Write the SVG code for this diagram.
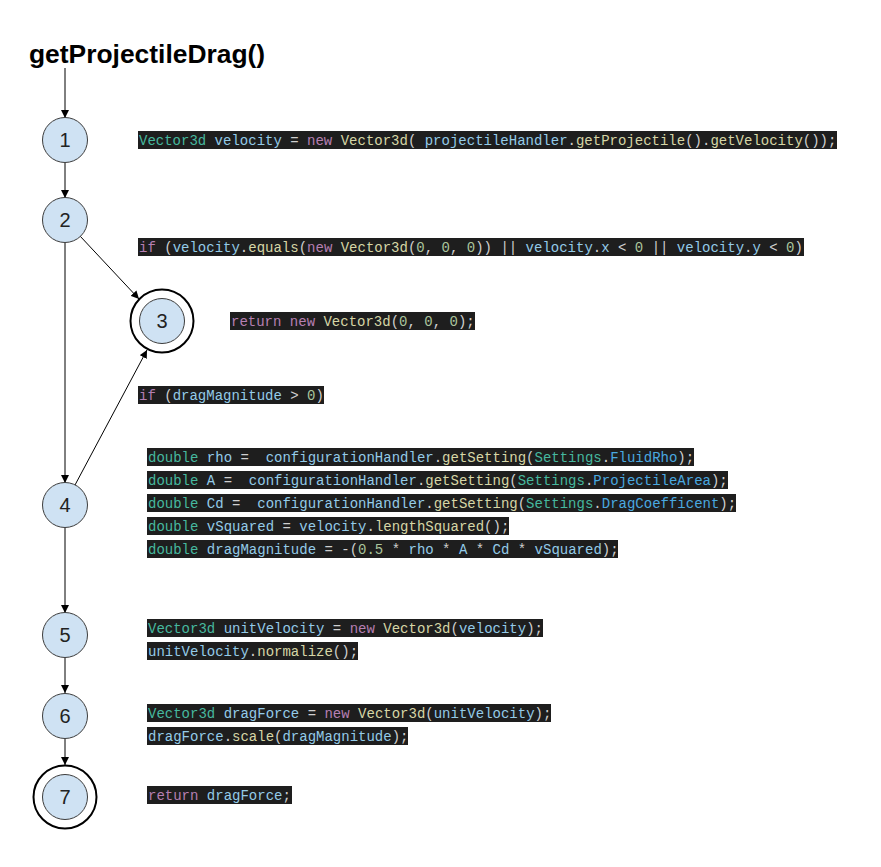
<svg xmlns="http://www.w3.org/2000/svg" width="881" height="867" viewBox="0 0 881 867">
  <style>
    .title { font-family: "Liberation Sans", Arial, sans-serif; font-weight: bold; font-size: 26.4px; fill: #000; }
    .node { fill: #cfe2f3; stroke: #3c3c3c; stroke-width: 1; }
    .ring { fill: none; stroke: #000; stroke-width: 2; }
    .lbl { font-family: "Liberation Sans", Arial, sans-serif; font-size: 20px; fill: #222; text-anchor: middle; }
    .edge { stroke: #000; stroke-width: 1; fill: none; marker-end: url(#arrow); }
    .bg { fill: #1e1e1e; }
    .code { font-family: "Liberation Mono", "Courier New", monospace; font-size: 14px; fill: #cfcfcf; white-space: pre; }
    .k { fill: #b67fb2; }
    .t { fill: #46b89e; }
    .v { fill: #94cbe8; }
    .f { fill: #d6d6a6; }
    .n { fill: #aac49c; }
    .c { fill: #4aa9e0; }
  </style>
  <defs>
    <marker id="arrow" viewBox="0 0 10 10" refX="10" refY="5" markerWidth="8" markerHeight="8" markerUnits="userSpaceOnUse" orient="auto">
      <path d="M0,0 L10,5 L0,10 z" fill="#000"/>
    </marker>
  </defs>

  <rect width="881" height="867" fill="#fff"/>

  <text class="title" x="29" y="63">getProjectileDrag()</text>

  <!-- control-flow edges -->
  <g id="connectors">
    <line class="edge" x1="65" y1="68" x2="65" y2="118"/>
    <line class="edge" x1="65" y1="163" x2="65" y2="198"/>
    <line class="edge" x1="80" y1="236" x2="139" y2="299"/>
    <line class="edge" x1="65" y1="243" x2="65" y2="483"/>
    <line class="edge" x1="75" y1="485" x2="147" y2="350"/>
    <line class="edge" x1="65" y1="528" x2="65" y2="613"/>
    <line class="edge" x1="65" y1="658" x2="65" y2="693"/>
    <line class="edge" x1="65" y1="739" x2="65" y2="765"/>
  </g>

  <!-- nodes -->
  <g id="node1">
    <circle class="node" cx="65" cy="140" r="22.5"/>
    <text class="lbl" x="65" y="147">1</text>
  </g>
  <g id="node2">
    <circle class="node" cx="65" cy="220" r="22.5"/>
    <text class="lbl" x="65" y="227">2</text>
  </g>
  <g id="node3">
    <circle class="ring" cx="162" cy="321" r="31.5"/>
    <circle class="node" cx="162" cy="321" r="22.5"/>
    <text class="lbl" x="162" y="328">3</text>
  </g>
  <g id="node4">
    <circle class="node" cx="65" cy="505" r="22.5"/>
    <text class="lbl" x="65" y="512">4</text>
  </g>
  <g id="node5">
    <circle class="node" cx="65" cy="635" r="22.5"/>
    <text class="lbl" x="65" y="642">5</text>
  </g>
  <g id="node6">
    <circle class="node" cx="65" cy="716" r="22.5"/>
    <text class="lbl" x="65" y="723">6</text>
  </g>
  <g id="node7">
    <circle class="ring" cx="65" cy="797" r="31.5"/>
    <circle class="node" cx="65" cy="797" r="22.5"/>
    <text class="lbl" x="65" y="804">7</text>
  </g>

  <!-- source snippets -->
  <g id="code1">
    <rect class="bg" x="138" y="131" width="699" height="18"/>
    <text class="code" x="139" y="144.5"><tspan class="t">Vector3d</tspan><tspan class="v"> velocity</tspan> = <tspan class="k">new</tspan><tspan class="f"> Vector3d</tspan>( <tspan class="v">projectileHandler</tspan>.<tspan class="f">getProjectile</tspan>().<tspan class="f">getVelocity</tspan>());</text>
  </g>
  <g id="code2">
    <rect class="bg" x="138" y="238" width="666" height="18"/>
    <text class="code" x="139" y="251.5"><tspan class="k">if</tspan> (<tspan class="v">velocity</tspan>.<tspan class="f">equals</tspan>(<tspan class="k">new</tspan> <tspan class="f">Vector3d</tspan>(<tspan class="n">0</tspan>, <tspan class="n">0</tspan>, <tspan class="n">0</tspan>)) || <tspan class="v">velocity</tspan>.<tspan class="v">x</tspan> &lt; <tspan class="n">0</tspan> || <tspan class="v">velocity</tspan>.<tspan class="v">y</tspan> &lt; <tspan class="n">0</tspan>)</text>
  </g>
  <g id="code3">
    <rect class="bg" x="230" y="312" width="245" height="18"/>
    <text class="code" x="231" y="325.5"><tspan class="k">return</tspan> <tspan class="k">new</tspan> <tspan class="f">Vector3d</tspan>(<tspan class="n">0</tspan>, <tspan class="n">0</tspan>, <tspan class="n">0</tspan>);</text>
  </g>
  <g id="code4">
    <rect class="bg" x="138" y="386" width="186" height="18"/>
    <text class="code" x="139" y="399.5"><tspan class="k">if</tspan> (<tspan class="v">dragMagnitude</tspan> &gt; <tspan class="n">0</tspan>)</text>
  </g>
  <g id="code5">
    <rect class="bg" x="147" y="448" width="547" height="18"/>
    <text class="code" x="148" y="461.5"><tspan class="t">double</tspan> <tspan class="v">rho</tspan> =  <tspan class="v">configurationHandler</tspan>.<tspan class="f">getSetting</tspan>(<tspan class="t">Settings</tspan>.<tspan class="c">FluidRho</tspan>);</text>
    <rect class="bg" x="147" y="471" width="581" height="18"/>
    <text class="code" x="148" y="484.5"><tspan class="t">double</tspan> <tspan class="v">A</tspan> =  <tspan class="v">configurationHandler</tspan>.<tspan class="f">getSetting</tspan>(<tspan class="t">Settings</tspan>.<tspan class="c">ProjectileArea</tspan>);</text>
    <rect class="bg" x="147" y="494" width="589" height="18"/>
    <text class="code" x="148" y="507.5"><tspan class="t">double</tspan> <tspan class="v">Cd</tspan> =  <tspan class="v">configurationHandler</tspan>.<tspan class="f">getSetting</tspan>(<tspan class="t">Settings</tspan>.<tspan class="c">DragCoefficent</tspan>);</text>
    <rect class="bg" x="147" y="517" width="362" height="18"/>
    <text class="code" x="148" y="530.5"><tspan class="t">double</tspan> <tspan class="v">vSquared</tspan> = <tspan class="v">velocity</tspan>.<tspan class="f">lengthSquared</tspan>();</text>
    <rect class="bg" x="147" y="540" width="471" height="18"/>
    <text class="code" x="148" y="553.5"><tspan class="t">double</tspan> <tspan class="v">dragMagnitude</tspan> = -(<tspan class="n">0.5</tspan> * <tspan class="v">rho</tspan> * <tspan class="v">A</tspan> * <tspan class="v">Cd</tspan> * <tspan class="v">vSquared</tspan>);</text>
  </g>
  <g id="code6">
    <rect class="bg" x="147" y="619" width="396" height="18"/>
    <text class="code" x="148" y="632.5"><tspan class="t">Vector3d</tspan> <tspan class="v">unitVelocity</tspan> = <tspan class="k">new</tspan> <tspan class="f">Vector3d</tspan>(<tspan class="v">velocity</tspan>);</text>
    <rect class="bg" x="147" y="642" width="211" height="18"/>
    <text class="code" x="148" y="655.5"><tspan class="v">unitVelocity</tspan>.<tspan class="f">normalize</tspan>();</text>
  </g>
  <g id="code7">
    <rect class="bg" x="147" y="704" width="404" height="18"/>
    <text class="code" x="148" y="717.5"><tspan class="t">Vector3d</tspan> <tspan class="v">dragForce</tspan> = <tspan class="k">new</tspan> <tspan class="f">Vector3d</tspan>(<tspan class="v">unitVelocity</tspan>);</text>
    <rect class="bg" x="147" y="727" width="261" height="18"/>
    <text class="code" x="148" y="740.5"><tspan class="v">dragForce</tspan>.<tspan class="f">scale</tspan>(<tspan class="v">dragMagnitude</tspan>);</text>
  </g>
  <g id="code8">
    <rect class="bg" x="147" y="786" width="145" height="18"/>
    <text class="code" x="148" y="799.5"><tspan class="k">return</tspan> <tspan class="v">dragForce</tspan>;</text>
  </g>
</svg>
